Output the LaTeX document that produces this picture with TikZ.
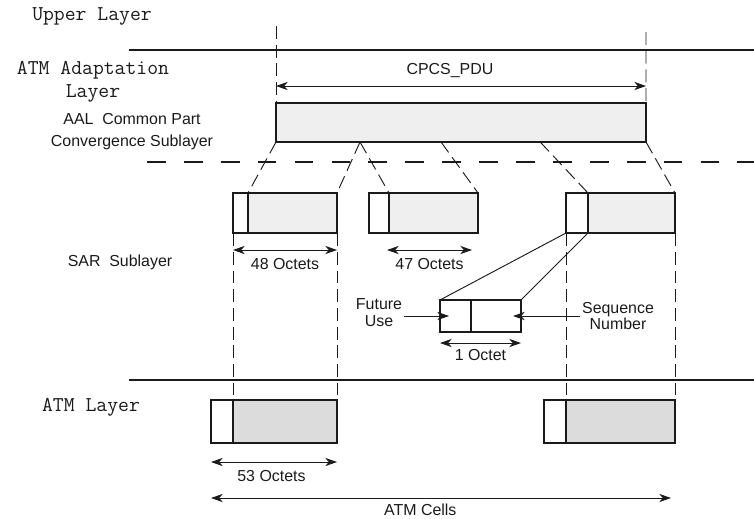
\documentclass[tikz,border=0pt]{standalone}
\usepackage{fontspec}
\setmainfont{Liberation Sans}
\usepackage{xcolor}
\definecolor{atink}{HTML}{1A1A1A}
\definecolor{atpale}{HTML}{EFEFEF}
\definecolor{atshade}{HTML}{DCDCDC}
\usetikzlibrary{arrows.meta,positioning,calc}
\tikzset{
  atcell/.style  ={rectangle, draw=atink, fill=white, line width=0.9pt,
                   inner sep=0pt, outer sep=0pt, minimum height=1.2cm},
  atrule/.style  ={draw=atink, line width=0.9pt},
  atgap/.style   ={draw=atink, line width=0.9pt, dash pattern=on 16pt off 15.5pt},
  atvdash/.style ={draw=atink, line width=0.8pt, dash pattern=on 11pt off 5pt},
  atthin/.style  ={draw=atink, line width=0.8pt},
  atarrow/.style ={{Stealth[length=10pt,width=7pt,inset=3pt]}-{Stealth[length=10pt,width=7pt,inset=3pt]},
                   line width=0.8pt, draw=atink},
  atptr/.style   ={-{Stealth[length=10pt,width=7pt,inset=3pt]}, line width=0.8pt, draw=atink},
  atlbl/.style   ={font=\fontsize{13.6}{14.5}\selectfont, text=atink, align=center},
  attt/.style    ={font=\fontsize{18}{19.6}\selectfont\ttfamily, text=atink, align=center},
}
\begin{document}
\begin{tikzpicture}[x=0.03cm, y=-0.03cm]
  \useasboundingbox (0,0) rectangle (754,518);
  % layer boundaries
  \draw[atrule] (129,50) -- (754,50);
  \draw[atgap] (147,162) -- (754,162);
  \draw[atrule] (129,380) -- (754,380);

  % left labels
  \node[attt] (upper) at (92,16) {Upper Layer};
  \node[attt] (aal) at (93,82) {ATM Adaptation\\Layer};
  \node[atlbl, font=\fontsize{13.6}{18.8}\selectfont] (cpcs) at (132,132) {AAL\ \ Common Part\\Convergence Sublayer};
  \node[atlbl] (sar) at (120,262) {SAR\ \ Sublayer};
  \node[attt] (atm) at (91,407) {ATM Layer};

  % CPCS PDU
  \node[atcell, fill=atpale, minimum width=11.1cm, minimum height=1.17cm, anchor=north west] (pdu) at (276,103) {};
  \coordinate (pdutl) at (276,26);
  \coordinate (pdutr) at (646,32);
  \draw[atvdash] (pdutl) -- (pdu.north west);
  \draw[atvdash] (pdutr) -- (pdu.north east);
  \draw[atarrow] ([yshift=0.51cm]pdu.north west) -- node[atlbl, above=3pt, pos=0.47] {CPCS\_PDU} ([yshift=0.51cm]pdu.north east);

  % SAR sublayer
  \node[atcell, minimum width=0.45cm, anchor=north west] (s1h) at (233,193) {};
  \node[atcell, fill=atpale, minimum width=2.67cm, right=0pt of s1h] (s1p) {};
  \node[atcell, minimum width=0.6cm, anchor=north west] (s2h) at (369,193) {};
  \node[atcell, fill=atpale, minimum width=2.67cm, right=0pt of s2h] (s2p) {};
  \node[atcell, minimum width=0.66cm, anchor=north west] (s3h) at (566,193) {};
  \node[atcell, fill=atpale, minimum width=2.61cm, right=0pt of s3h] (s3p) {};
  \foreach \f/\c in {0/s1p.north west, 0.227/s1p.north east, 0.227/s2p.north west,
                     0.446/s2p.north east, 0.714/s3p.north west, 1/s3p.north east}
    \draw[atvdash] ($(pdu.south west)!\f!(pdu.south east)$) -- (\c);
  \draw[atarrow] ([yshift=-0.51cm]s1h.south west) -- node[atlbl, below=3pt] {48 Octets} ([yshift=-0.51cm]s1p.south east);
  \draw[atarrow] ([xshift=-0.06cm, yshift=-0.51cm]s2h.south east) -- node[atlbl, below=3pt] {47 Octets} ([xshift=-0.18cm, yshift=-0.51cm]s2p.south east);

  % SAR header detail
  \node[atcell, minimum width=0.93cm, minimum height=0.96cm, anchor=north west] (dfu) at (440,300) {};
  \node[atcell, minimum width=1.5cm, minimum height=0.96cm, right=0pt of dfu] (dsn) {};
  \draw[atthin] (s3h.south west) -- (dfu.north west);
  \draw[atthin] (s3h.south east) -- (dsn.north east);
  \draw[atarrow] ([yshift=-0.33cm]dfu.south west) -- node[atlbl, below=2pt] {1 Octet} ([yshift=-0.33cm]dsn.south east);
  \node[atlbl] (futlbl) at (379,313) {Future\\Use};
  \node[atlbl] (seqlbl) at (618,316) {Sequence\\Number};
  \draw[atptr] ([xshift=-2pt]futlbl.east |- dfu.west) -- ([xshift=0.27cm]dfu.west);
  \draw[atptr] ([xshift=2pt]seqlbl.west |- dsn.east) -- ([xshift=-0.24cm]dsn.east);

  % ATM layer
  \node[atcell, minimum width=0.66cm, minimum height=1.29cm, anchor=north west] (a1h) at (211,400) {};
  \node[atcell, fill=atshade, minimum width=3.12cm, minimum height=1.29cm, right=0pt of a1h] (a1p) {};
  \node[atcell, minimum width=0.66cm, minimum height=1.29cm, anchor=north west] (a2h) at (544,400) {};
  \node[atcell, fill=atshade, minimum width=3.27cm, minimum height=1.29cm, right=0pt of a2h] (a2p) {};
  \draw[atvdash, shorten >=4pt] (s1h.south west) -- (s1h.south west |- a1p.north);
  \draw[atvdash, shorten >=4pt] (s1p.south east) -- (s1p.south east |- a1p.north);
  \draw[atvdash, shorten >=4pt] (s3h.south west) -- (s3h.south west |- a2p.north);
  \draw[atvdash, shorten >=4pt] (s3p.south east) -- (s3p.south east |- a2p.north);
  \draw[atarrow] ([yshift=-0.57cm]a1h.south west) -- node[atlbl, below=3pt, pos=0.48] {53 Octets} ([yshift=-0.57cm]a1p.south east);
  \draw[atarrow] ([yshift=-1.65cm]a1h.south west) -- node[atlbl, below=1pt, pos=0.455] {ATM Cells} ([xshift=-0.12cm, yshift=-1.65cm]a2p.south east);
\end{tikzpicture}
\end{document}
